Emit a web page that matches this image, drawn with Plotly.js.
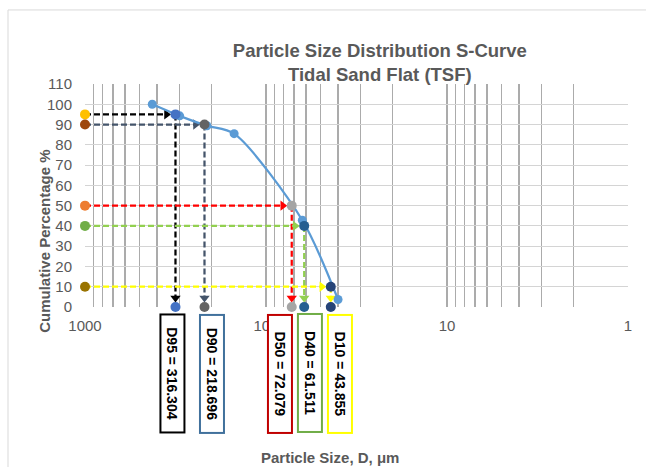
<!DOCTYPE html>
<html>
<head>
<meta charset="utf-8">
<script src="https://cdn.plot.ly/plotly-3.0.1.min.js"></script>
<style>
html,body{margin:0;padding:0;background:#fff;}
#chart{width:646px;height:467px;}
</style>
</head>
<body>
<div id="chart"></div>
<script>
// ---- data ----
const curveSize = [425, 300, 212, 150, 63, 40];
const curvePct = [100, 94.3, 89.4, 85.5, 42.8, 3.7];

const dLabels = ['D95', 'D90', 'D50', 'D40', 'D10'];
const dPct = [95, 90, 50, 40, 10];
const dSize = [316.304, 218.696, 72.079, 61.511, 43.855];
const leftSize = 1000;

const pointColors = ['#4472C4', '#636363', '#A5A5A5', '#255E91', '#264478'];
const leftColors = ['#FFC000', '#9E480E', '#ED7D31', '#70AD47', '#997300'];
const arrowColors = ['#000000', '#44546A', '#FF0000', '#92D050', '#FFFF00'];
const boxColors = ['#000000', '#41719C', '#C00000', '#70AD47', '#FFFF00'];
const boxX = [0.1602, 0.2330, 0.3582, 0.4134, 0.4687];

const xTickLabels = ['1', '10', '100', '1000'];
const yTickVals = [0, 10, 20, 30, 40, 50, 60, 70, 80, 90, 100, 110];

const FONT = 'Liberation Sans, Arial, sans-serif';
const GREY = '#595959';

// px per decade (543 px for 3 decades)
const pxDec = 543 / 3;
const shiftPx = (v, px) => v * Math.pow(10, px / pxDec);

const traces = [];
dSize.forEach((d, i) => {
  const c = arrowColors[i];
  // horizontal dashed line
  traces.push({x: [leftSize, shiftPx(d, 9)], y: [dPct[i], dPct[i]], mode: 'lines',
    line: {color: c, width: 2.25, dash: '6px,3px'}, hoverinfo: 'skip', cliponaxis: false});
  traces.push({x: [shiftPx(d, 9)], y: [dPct[i]], mode: 'markers',
    marker: {symbol: 'triangle-right', size: 9, color: c}, hoverinfo: 'skip', cliponaxis: false});
  // vertical dashed line
  traces.push({x: [d, d], y: [dPct[i], 4.5], mode: 'lines',
    line: {color: c, width: 2.25, dash: '6px,3px'}, hoverinfo: 'skip', cliponaxis: false});
  traces.push({x: [d], y: [4.5], mode: 'markers',
    marker: {symbol: 'triangle-down', size: 9, color: c}, hoverinfo: 'skip', cliponaxis: false});
});

// S-curve
traces.push({x: curveSize, y: curvePct, mode: 'lines+markers',
  line: {color: '#5B9BD5', width: 2.25, shape: 'spline', smoothing: 0.8},
  marker: {color: '#5B9BD5', size: 9}, cliponaxis: false});

// left markers, D markers, bottom markers
dSize.forEach((d, i) => {
  traces.push({x: [leftSize], y: [dPct[i]], mode: 'markers',
    marker: {color: leftColors[i], size: 10}, cliponaxis: false});
  traces.push({x: [d], y: [dPct[i]], mode: 'markers',
    marker: {color: pointColors[i], size: 10}, cliponaxis: false});
  traces.push({x: [d], y: [0], mode: 'markers',
    marker: {color: pointColors[i], size: 10}, cliponaxis: false});
});

// x ticks (gridlines at every 1-9 multiple, labels at decades)
const xTickVals = [], xTickText = [];
for (let e = 0; e < 3; e++) {
  for (let m = 1; m < 10; m++) {
    xTickVals.push(m * Math.pow(10, e));
    xTickText.push(m === 1 ? xTickLabels[e] : '');
  }
}
xTickVals.push(1000); xTickText.push(xTickLabels[3]);

const annotations = dLabels.map((lab, i) => ({
  xref: 'paper', yref: 'paper', x: boxX[i], y: -0.298,
  text: '<b>' + lab + ' = ' + dSize[i].toFixed(3) + '</b>',
  showarrow: false, textangle: 90,
  font: {family: FONT, size: 14, color: '#000'},
  bgcolor: '#ffffff', bordercolor: boxColors[i], borderwidth: 2, borderpad: 1,
  width: 114, height: 20, xanchor: 'center', yanchor: 'middle'
}));
annotations.push({xref: 'paper', yref: 'paper', x: -0.074, y: 0.296,
  text: '<b>Cumulative Percentage %</b>', showarrow: false, textangle: -90,
  font: {family: FONT, size: 15, color: GREY}, xanchor: 'center', yanchor: 'middle'});
annotations.push({xref: 'paper', yref: 'paper', x: 0.451, y: -0.673,
  text: '<b>Particle Size, D, μm</b>', showarrow: false,
  font: {family: FONT, size: 15, color: GREY}, xanchor: 'center', yanchor: 'middle'});

const layout = {
  width: 646, height: 467,
  margin: {l: 85, r: 18, t: 84, b: 160},
  paper_bgcolor: '#ffffff', plot_bgcolor: '#ffffff',
  showlegend: false,
  title: {
    text: '<b>Particle Size Distribution S-Curve</b><br><b>Tidal Sand Flat (TSF)</b>',
    font: {family: FONT, size: 18.5, color: GREY},
    xref: 'container', x: 0.588, xanchor: 'center',
    yref: 'container', y: 0.877, yanchor: 'middle'
  },
  xaxis: {
    type: 'log', range: [3, 0],
    tickmode: 'array', tickvals: xTickVals, ticktext: xTickText,
    showgrid: true, gridcolor: '#ABABAB', gridwidth: 1.5,
    ticks: 'outside', ticklen: 5, tickcolor: 'rgba(0,0,0,0)',
    tickfont: {family: FONT, size: 15, color: GREY},
    zeroline: false, showline: false
  },
  yaxis: {
    range: [0, 110], tickmode: 'array', tickvals: yTickVals,
    showgrid: true, gridcolor: '#D4D4D4', gridwidth: 1,
    ticks: 'outside', ticklen: 9, tickcolor: 'rgba(0,0,0,0)',
    tickfont: {family: FONT, size: 15, color: GREY},
    zeroline: false, showline: false
  },
  shapes: [{type: 'rect', xref: 'paper', yref: 'paper',
    x0: -0.1418, x1: 1.05, y0: -0.75, y1: 1.332,
    line: {color: '#D9D9D9', width: 1}, fillcolor: 'rgba(0,0,0,0)', layer: 'below'}],
  annotations: annotations
};

Plotly.newPlot('chart', traces, layout, {displayModeBar: false, staticPlot: true});
</script>
</body>
</html>
